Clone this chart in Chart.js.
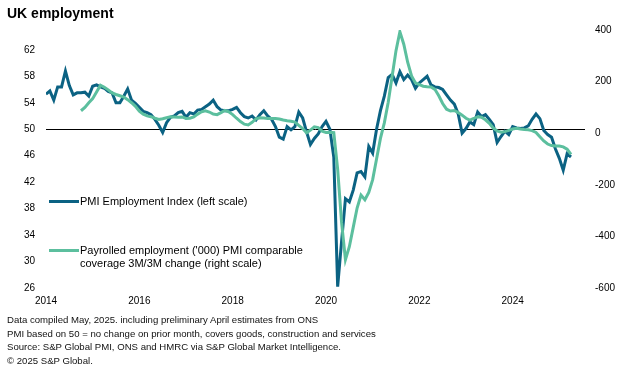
<!DOCTYPE html>
<html>
<head>
<meta charset="utf-8">
<script src="https://cdn.jsdelivr.net/npm/chart.js@4/dist/chart.umd.min.js"></script>
<style>
  html, body { margin:0; padding:0; background:#fff; }
  body { width:623px; height:371px; position:relative; overflow:hidden; font-family:"Liberation Sans", Arial, sans-serif; color:#000; }
  #c { position:absolute; left:0; top:0; }
  .title { position:absolute; left:7px; top:4px; font-weight:bold; font-size:14px; line-height:18px; }
  .leg { position:absolute; font-size:11px; line-height:12.7px; white-space:nowrap; }
  .swatch { position:absolute; height:3px; width:30px; }
  .notes { position:absolute; left:7px; top:313px; font-size:9.6px; line-height:13.6px; color:#111; white-space:nowrap; }
</style>
</head>
<body>
<canvas id="c" width="623" height="371"></canvas>
<div class="title">UK employment</div>
<div class="swatch" style="left:49px; top:200px; background:#0b6283;"></div>
<div class="leg" style="left:80px; top:195px;">PMI Employment Index (left scale)</div>
<div class="swatch" style="left:49px; top:249px; background:#5cbf9e;"></div>
<div class="leg" style="left:80px; top:244px;">Payrolled employment ('000) PMI comparable<br>coverage 3M/3M change (right scale)</div>
<div class="notes">Data compiled May, 2025. including preliminary April estimates from ONS<br>PMI based on 50 = no change on prior month, covers goods, construction and services<br>Source: S&amp;P Global PMI, ONS and HMRC via S&amp;P Global Market Intelligence.<br>© 2025 S&amp;P Global.</div>
<script>
// Monthly series, Jan 2014 .. Apr 2025
const startYear = 2014;
const pmiEmployment = [
  55.3, 55.8, 54.4, 56.4, 56.4, 58.8, 56.6, 55.2, 55.5, 55.5, 55.6, 55.0, // 2014
  56.5, 56.7, 56.4, 56.2, 55.7, 55.5, 54.0, 54.0, 55.0, 56.1, 54.4, 53.9, // 2015
  53.3, 52.7, 52.5, 52.2, 51.5, 50.6, 49.5, 51.0, 51.8, 52.0, 52.5, 52.7, // 2016
  51.8, 52.5, 52.3, 52.9, 53.0, 53.4, 53.8, 54.4, 53.4, 52.9, 52.8, 52.8, // 2017
  53.0, 53.3, 52.5, 51.9, 51.7, 52.0, 51.4, 52.2, 52.8, 52.0, 51.5, 50.4, // 2018
  48.8, 48.5, 50.4, 49.9, 50.4, 52.6, 51.7, 49.6, 47.7, 48.6, 49.3, 50.4, // 2019
  51.2, 50.0, 45.8, 26.2, 33.0, 39.5, 39.0, 40.8, 43.4, 43.6, 42.8, 47.4, // 2020
  46.4, 50.0, 52.8, 55.0, 57.8, 58.3, 57.0, 58.7, 57.5, 58.2, 57.5, 56.2, // 2021
  57.0, 57.5, 58.0, 56.7, 56.4, 56.3, 56.0, 55.2, 54.4, 53.8, 52.3, 49.4, // 2022
  50.1, 51.1, 50.7, 52.6, 51.9, 52.2, 51.5, 50.7, 48.0, 48.9, 49.7, 49.2, // 2023
  50.4, 50.2, 50.1, 50.2, 50.5, 51.5, 52.3, 51.6, 49.8, 49.2, 48.8, 47.0, // 2024
  45.6, 43.8, 46.3, 45.8                                                  // 2025
];
const payrolledChange = [
  null, null, null, null, null, null, null, null, null, 87, 100, 118,     // 2014
  134, 160, 186, 178, 168, 156, 150, 145, 140, 130, 118, 104,             // 2015
  85, 74, 67, 64, 58, 53, 56, 60, 64, 63, 62, 63,                         // 2016
  57, 58, 63, 74, 83, 87, 82, 74, 72, 80, 88, 83,                         // 2017
  72, 58, 45, 35, 32, 42, 56, 60, 59, 57, 57, 57,                         // 2018
  55, 51, 48, 46, 43, 30, 18, 2, 12, 25, 22, 8,                           // 2019
  3, 4, 2, -140, -345, -490, -440, -365, -290, -240, -258, -230,          // 2020
  -180, -100, -20, 40, 120, 220, 320, 393, 345, 275, 222, 195,            // 2021
  188, 182, 180, 179, 170, 145, 115, 93, 86, 88, 80, 70,                  // 2022
  58, 51, 57, 64, 62, 52, 38, 20, 9, 4, 6, 11,                            // 2023
  16, 19, 16, 14, 13, 10, 3, -14, -30, -42, -48, -50,                     // 2024
  -50, -53, -62, -82                                                      // 2025
];
const xTickLabels = [2014, 2016, 2018, 2020, 2022, 2024];
const leftTicks = [26, 30, 34, 38, 42, 46, 50, 54, 58, 62];
const rightTicks = [-600, -400, -200, 0, 200, 400];

const monthPos = pmiEmployment.map((_, i) => startYear + i / 12);
const toPoints = arr => arr.map((v, i) => ({ x: monthPos[i], y: v }));

const font = { family: '"Liberation Sans", Arial, sans-serif', size: 10 };

new Chart(document.getElementById('c'), {
  type: 'line',
  data: {
    datasets: [
      {
        label: 'PMI Employment Index (left scale)',
        data: toPoints(pmiEmployment),
        yAxisID: 'yL',
        borderColor: '#0b6283',
        borderWidth: 3,
        pointRadius: 0,
        tension: 0,
        order: 2
      },
      {
        label: "Payrolled employment ('000) PMI comparable coverage 3M/3M change (right scale)",
        data: toPoints(payrolledChange),
        yAxisID: 'yR',
        borderColor: '#5cbf9e',
        borderWidth: 3,
        pointRadius: 0,
        tension: 0,
        order: 1
      }
    ]
  },
  options: {
    responsive: false,
    animation: false,
    devicePixelRatio: 1,
    layout: { padding: { left: 0, right: 0, top: 30, bottom: 0 } },
    plugins: { legend: { display: false }, tooltip: { enabled: false }, title: { display: false } },
    scales: {
      x: {
        type: 'linear',
        min: 2014,
        max: 2025.55,
        afterBuildTicks: s => { s.ticks = xTickLabels.map(v => ({ value: v })); },
        afterFit: s => { s.height = 83; },
        grid: { display: false, drawTicks: false },
        border: { display: false },
        ticks: { autoSkip: false, maxRotation: 0, padding: 7, color: '#000', font, callback: v => String(v) }
      },
      yL: {
        position: 'left',
        min: 26,
        max: 65,
        afterBuildTicks: s => { s.ticks = leftTicks.map(v => ({ value: v })); },
        afterFit: s => { s.width = 46; },
        grid: {
          drawTicks: false,
          lineWidth: 1,
          color: ctx => (ctx.tick && ctx.tick.value === 50) ? '#000' : 'rgba(0,0,0,0)'
        },
        border: { display: false },
        ticks: { padding: 11, color: '#000', font }
      },
      yR: {
        position: 'right',
        min: -600,
        max: 400,
        afterBuildTicks: s => { s.ticks = rightTicks.map(v => ({ value: v })); },
        afterFit: s => { s.width = 38; },
        grid: { display: false, drawTicks: false },
        border: { display: false },
        ticks: { padding: 10, color: '#000', font }
      }
    }
  }
});
</script>
</body>
</html>
